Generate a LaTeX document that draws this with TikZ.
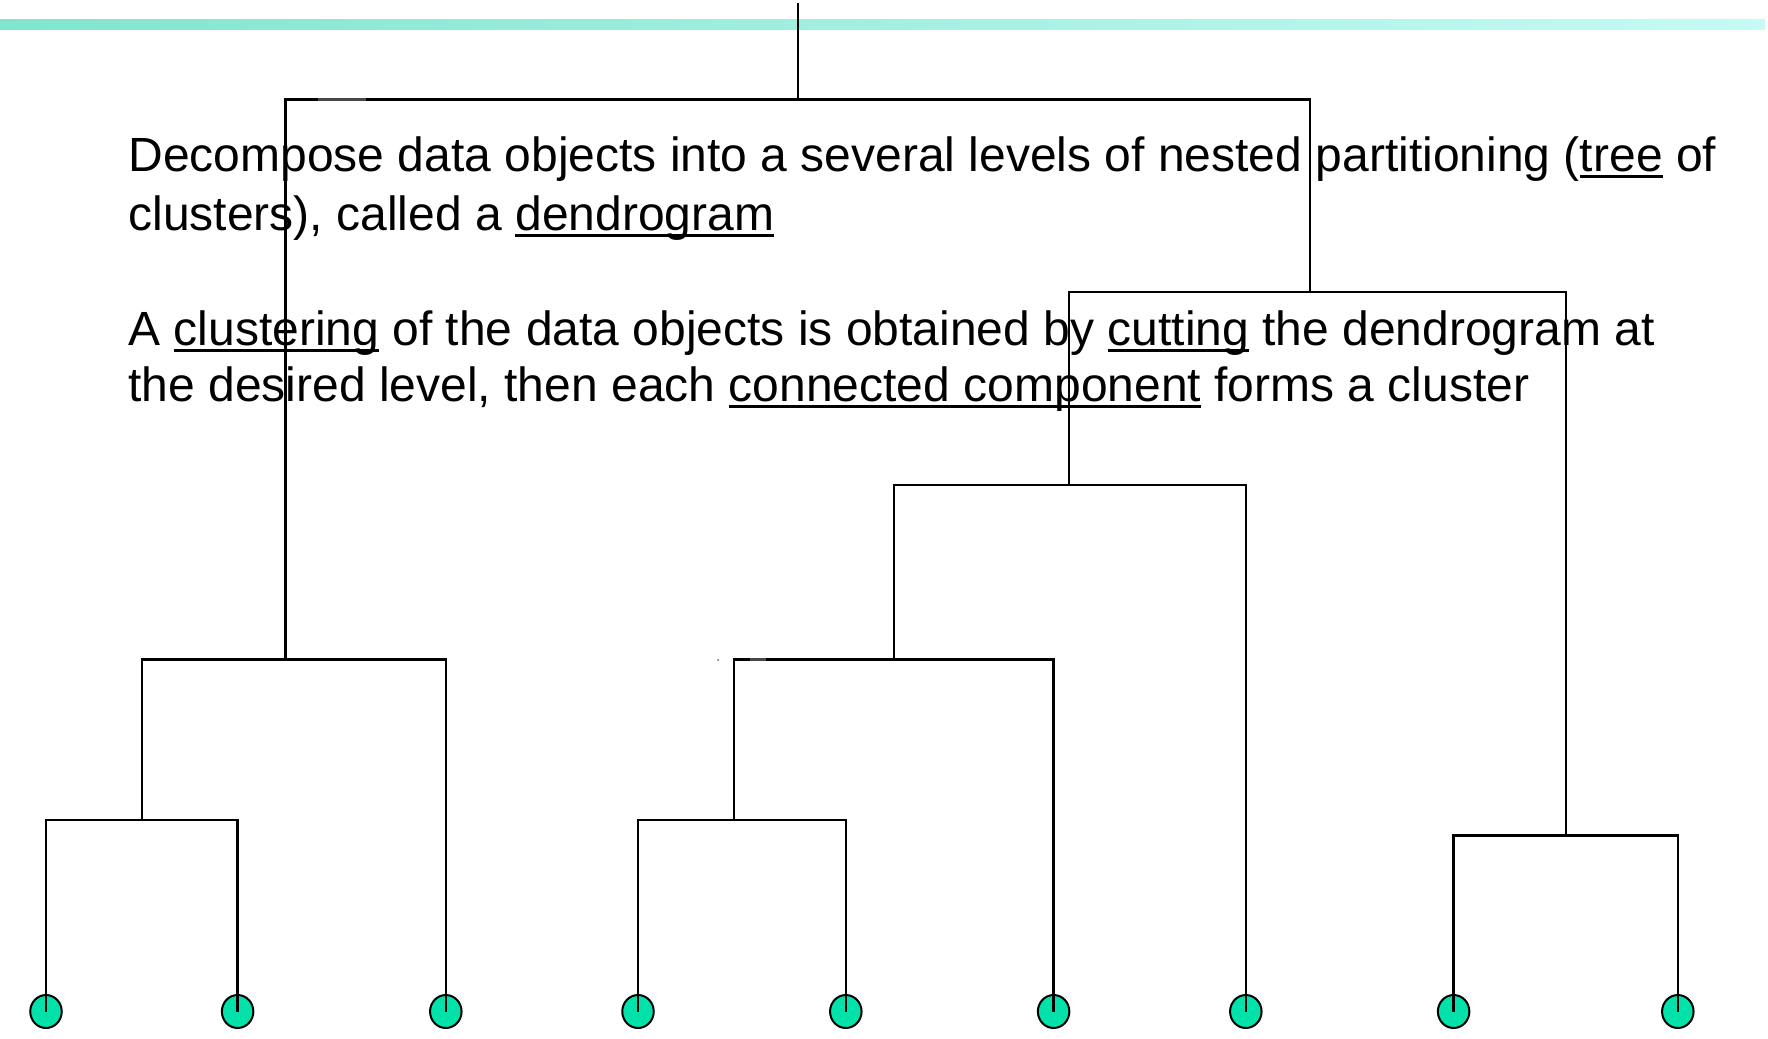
\documentclass[tikz,border=0pt]{standalone}
\usepackage{fontspec}
\setmainfont{Liberation Sans}
\usetikzlibrary{shapes.geometric}

% underlined phrase: a 3pt rule whose bottom lies 6.5pt below the baseline
\newsavebox{\ulbox}
\newcommand{\ulphrase}[1]{\sbox{\ulbox}{#1}\rlap{\rule[-6.5pt]{\wd\ulbox}{3pt}}\usebox{\ulbox}}

\definecolor{barleft}{RGB}{128,229,207}
\definecolor{barright}{RGB}{197,250,245}
\definecolor{leafgreen}{RGB}{0,226,170}

\tikzset{
  link/.style={line width=2.4pt, line join=miter},
  leaf/.style={ellipse, draw=black, line width=2pt, fill=leafgreen,
               minimum width=31.5pt, minimum height=33pt, inner sep=0pt},
  textline/.style={anchor=base west, inner sep=0pt, outer sep=0pt,
                   font=\fontsize{48pt}{57pt}\selectfont},
  seam/.style={line width=3.4pt, draw=black!72},
}

\begin{document}
\begin{tikzpicture}[x=1pt, y=-1pt]
  \useasboundingbox (0,0) rectangle (1768,1038);

  % header bar
  \shade[left color=barleft, right color=barright] (0,20) rectangle (1765,30);

  % explanatory text
  \node[textline] (t1) at (128.5,171.7)
    {Decompose data objects into a several levels of nested partitioning (\ulphrase{tree} of};
  \node[textline] (t2) at (128.5,230)
    {clusters), called a \ulphrase{dendrogram}};
  \node[textline] (t3) at (128.5,345)
    {A \ulphrase{clustering} of the data objects is obtained by \ulphrase{cutting} the dendrogram at};
  \node[textline] (t4) at (128.5,401.7)
    {the desired level, then each \ulphrase{connected component} forms a cluster};

  % leaves
  \node[leaf] (L1) at (46,1011.5) {};
  \node[leaf] (L2) at (237.6,1011.5) {};
  \node[leaf] (L3) at (445.8,1011.5) {};
  \node[leaf] (L4) at (638,1011.5) {};
  \node[leaf] (L5) at (845.8,1011.5) {};
  \node[leaf] (L6) at (1053.6,1011.5) {};
  \node[leaf] (L7) at (1245.8,1011.5) {};
  \node[leaf] (L8) at (1453.6,1011.5) {};
  \node[leaf] (L9) at (1677.8,1011.5) {};

  % merge points (where each parent stem leaves its bar)
  \coordinate (m12)   at (142,819.7);
  \coordinate (m123)  at (285.5,659.6);
  \coordinate (m45)   at (734,819.7);
  \coordinate (m456)  at (894,659.6);
  \coordinate (m4567) at (1069,484.9);
  \coordinate (m89)   at (1566,835.5);
  \coordinate (mR)    at (1310,292);
  \coordinate (root)  at (798,99.4);
  \coordinate (stem)  at (798,3.5);

  % dendrogram links
  \draw[link] (L1.center) |- (m12) -| (L2.center);
  \draw[link] (m12) |- (m123) -| (L3.center);
  \draw[link] (L4.center) |- (m45) -| (L5.center);
  \draw[link] (m45) |- (m456) -| (L6.center);
  \draw[link] (m456) |- (m4567) -| (L7.center);
  \draw[link] (L8.center) |- (m89) -| (L9.center);
  \draw[link] (m4567) |- (mR) -| (m89);
  \draw[link] (m123) |- (root) -| (mR);
  \draw[link] (root) -- (stem);

  % small darker patches on two bars
  \draw[seam] (318,99.4) -- (366,99.4);
  \draw[seam] (750,659.6) -- (766,659.6);
  \fill[black!60] (718,660) circle (1pt);
\end{tikzpicture}
\end{document}
